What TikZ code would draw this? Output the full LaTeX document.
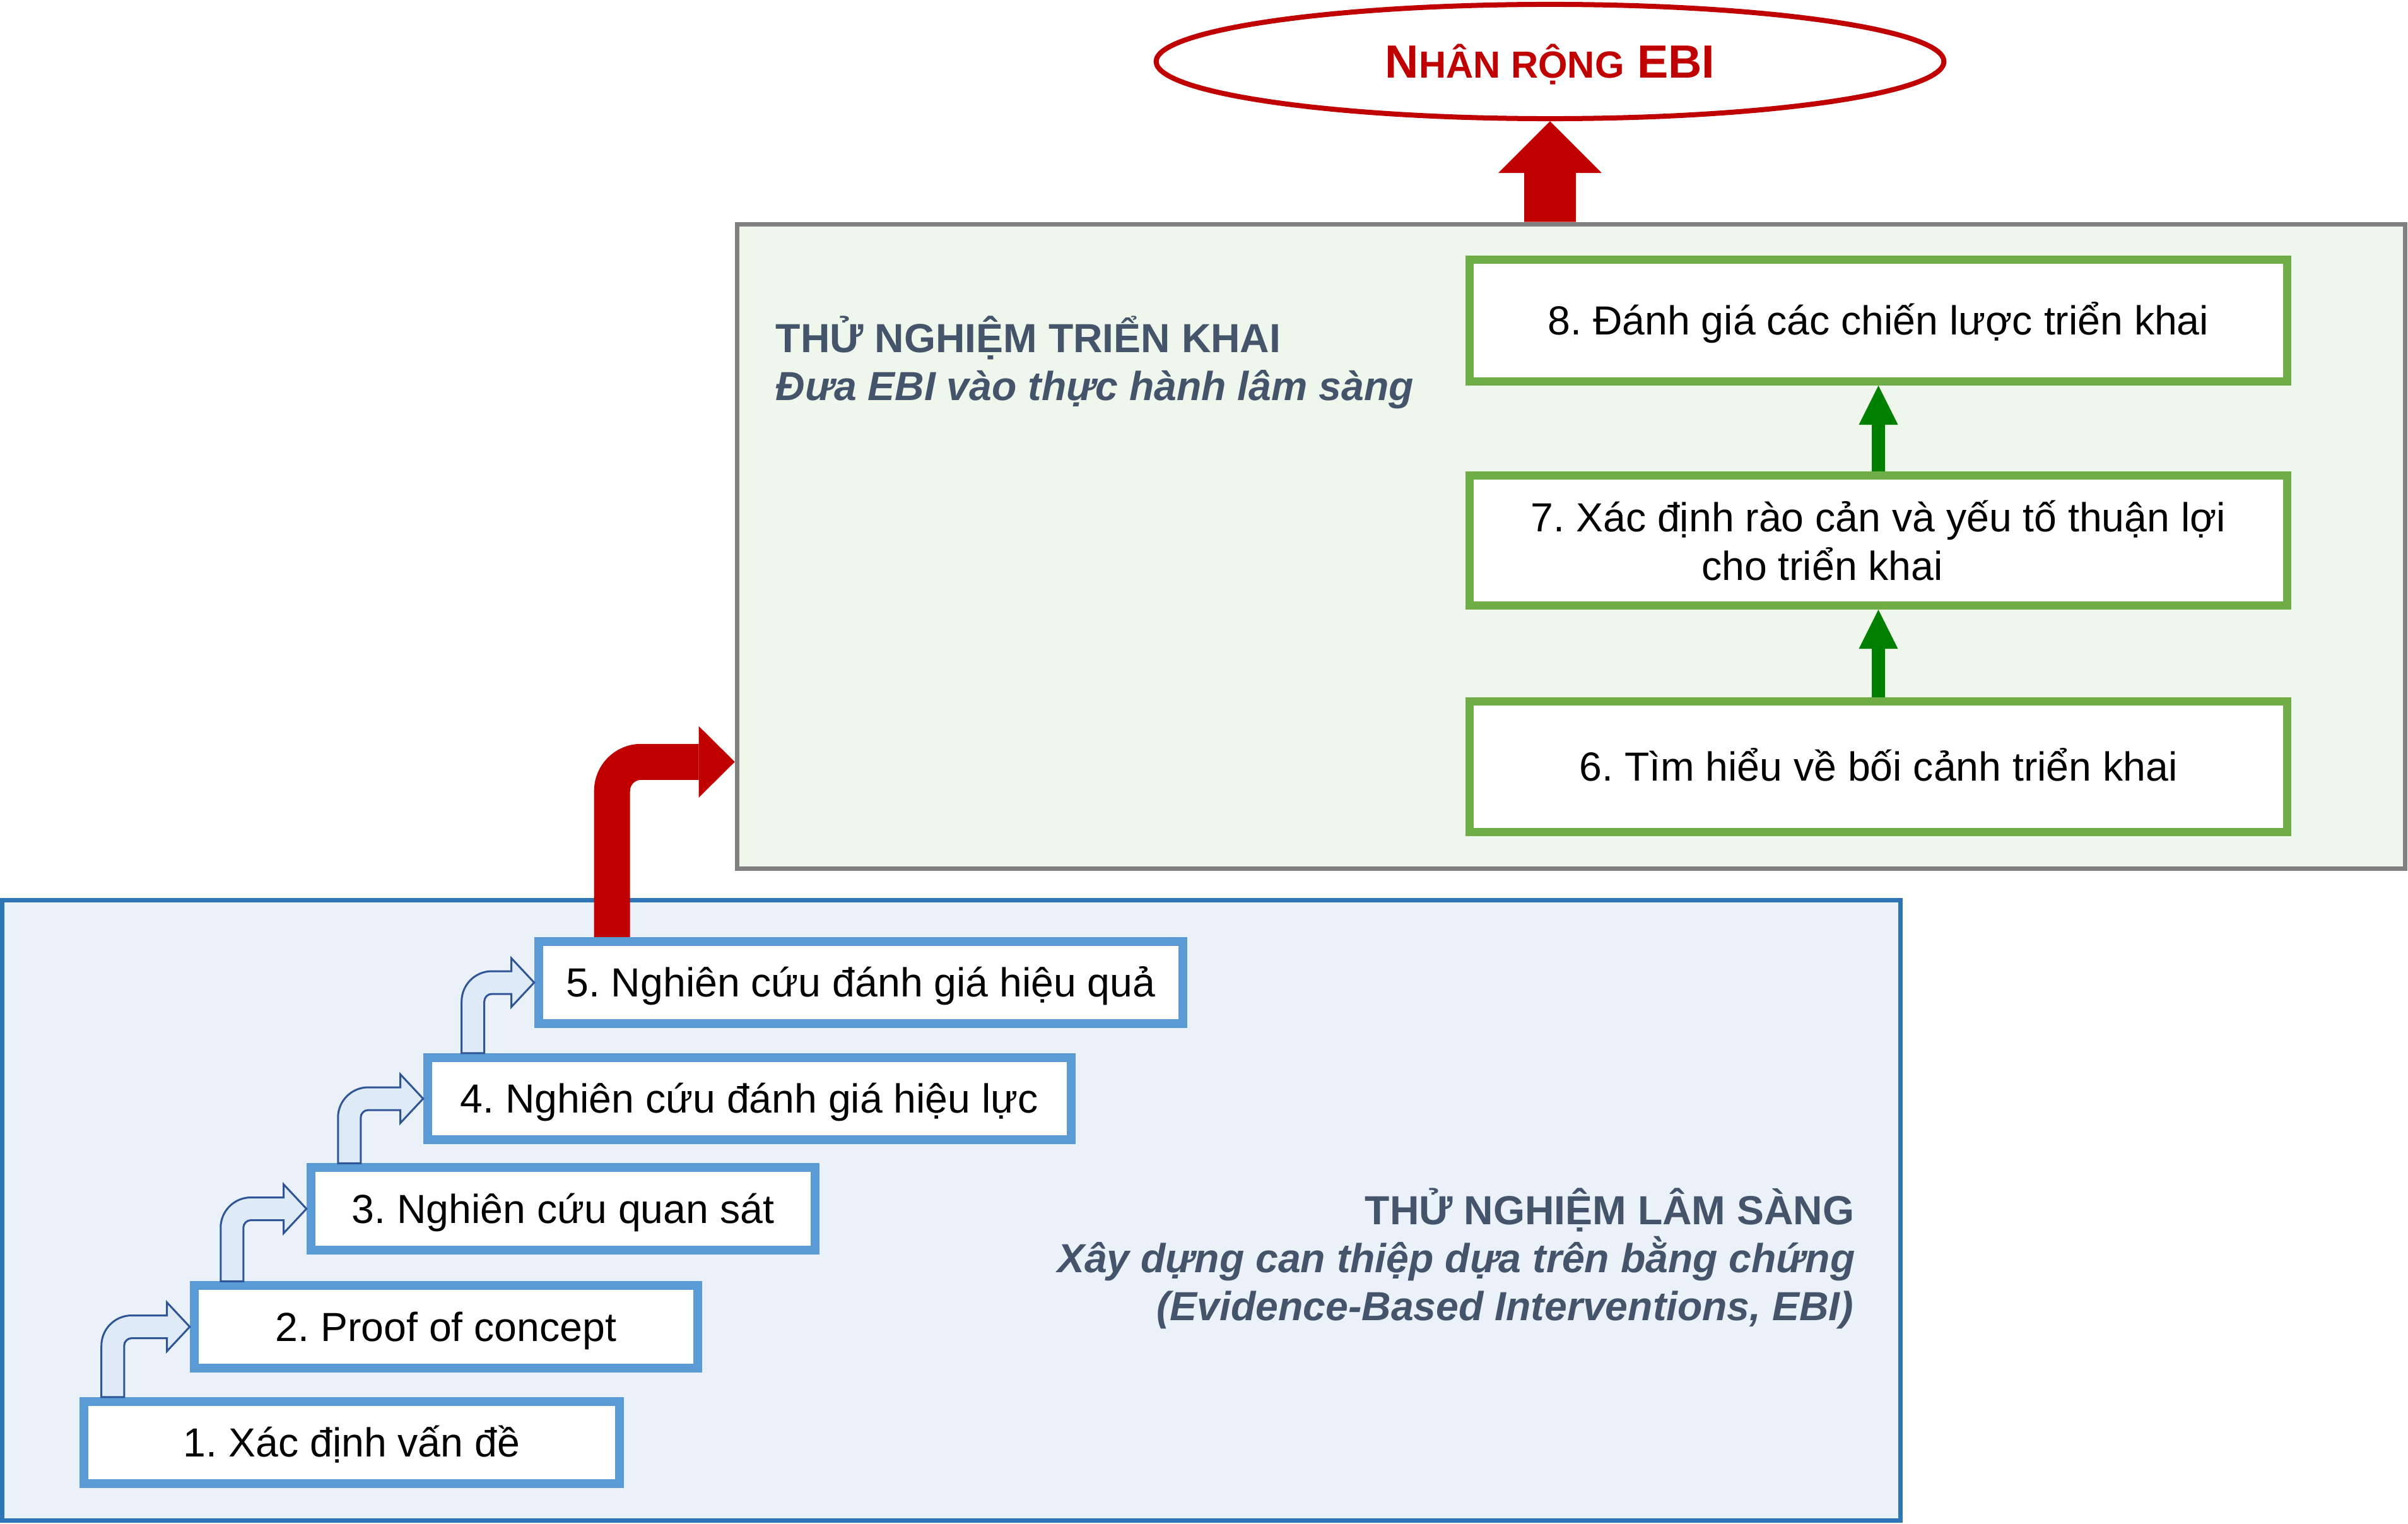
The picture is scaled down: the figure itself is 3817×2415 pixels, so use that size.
\documentclass[tikz,border=0pt]{standalone}
\usepackage{fontspec}
\setmainfont{Liberation Sans}
\usetikzlibrary{calc,shapes.geometric}
\frenchspacing

\definecolor{bluefill}{HTML}{EAF1F9}
\definecolor{blueborder}{HTML}{2E75B6}
\definecolor{boxblue}{HTML}{5B9BD5}
\definecolor{greenfill}{HTML}{EFF7EC}
\definecolor{grayborder}{HTML}{808080}
\definecolor{boxgreen}{HTML}{70AD47}
\definecolor{arrowgreen}{HTML}{008000}
\definecolor{darkred}{HTML}{C00000}
\definecolor{headcol}{HTML}{44546A}
\definecolor{sarrfill}{HTML}{DEEBF7}
\definecolor{sarrline}{HTML}{2F5597}

% thick straight arrow pointing up: #1 from, #2 to, #3 shaft half width, #4 head half width, #5 head length, #6 colour
\newcommand\thickup[6]{%
  \fill[#6] let \p1=(#1), \p2=(#2) in
    (\x1-#3,\y1) -- (\x1-#3,\y2-#5) -- (\x1-#4,\y2-#5) -- (\x1,\y2)
    -- (\x1+#4,\y2-#5) -- (\x1+#3,\y2-#5) -- (\x1+#3,\y1) -- cycle;}

% hollow bent step arrow: #1 from node, #2 to node, #3 x offset of shaft centre from #1's left edge
\newcommand\steparrow[3]{%
  \filldraw[fill=sarrfill, draw=sarrline, line width=0.03cm, line join=miter]
    let \p1=(#1.north west), \p2=(#2.west), \p3=($(#1.north west)+(#3,0)$) in
    (\x3-0.18cm,\y1) [rounded corners=0.48cm] -- (\x3-0.18cm,\y2+0.18cm) [sharp corners]
    -- (\x2-0.36cm,\y2+0.18cm) -- (\x2-0.36cm,\y2+0.385cm) -- (\x2,\y2)
    -- (\x2-0.36cm,\y2-0.385cm) -- (\x2-0.36cm,\y2-0.18cm) [rounded corners=0.12cm]
    -- (\x3+0.18cm,\y2-0.18cm) [sharp corners] -- (\x3+0.18cm,\y1) -- cycle;}

\begin{document}
\begin{tikzpicture}[x=0.01cm,y=-0.01cm,
  container/.style={draw, line width=0.07cm, inner sep=0pt},
  bluebox/.style={draw=boxblue, fill=white, line width=0.14cm, minimum height=1.30cm,
    inner sep=0pt, font=\fontsize{18.3}{21.9}\selectfont, text height=0.45cm, text depth=0pt},
  greenbox/.style={draw=boxgreen, fill=white, line width=0.13cm, minimum width=12.96cm,
    inner sep=0pt, font=\fontsize{18.3}{21.9}\selectfont},
  headtxt/.style={text=headcol, inner sep=0pt, font=\fontsize{18.3}{21.9}\selectfont\bfseries},
  headital/.style={text=headcol, inner sep=0pt, font=\fontsize{18.3}{21.9}\selectfont\bfseries\itshape}
]
\useasboundingbox (0,0) rectangle (3817,2415);

% containers
\node[container, draw=blueborder, fill=bluefill, minimum width=30.07cm, minimum height=9.83cm] (clin) at (1508,1918) {};
\node[container, draw=grayborder, fill=greenfill, minimum width=26.425cm, minimum height=10.21cm] (impl) at (2490.25,866) {};

% top ellipse
\node[ellipse, draw=darkred, fill=white, line width=0.08cm, minimum width=12.48cm, minimum height=1.81cm,
  inner sep=0pt, text=darkred, font=\bfseries, text height=0.52cm, text depth=0pt] (ebi) at (2457,97.5)
  {{\fontsize{21}{25}\selectfont N}{\fontsize{17}{20}\selectfont HÂN RỘNG}{\fontsize{21}{25}\selectfont\ EBI}};

% headings
\node[headtxt, anchor=base west] (h1a) at (1229,558) {THỬ NGHIỆM TRIỂN KHAI};
\node[headital, anchor=base west] (h1b) at (1229,634) {Đưa EBI vào thực hành lâm sàng};
\node[headtxt, anchor=base east] (h2a) at (2940,1940) {THỬ NGHIỆM LÂM SÀNG};
\node[headital, anchor=base east] (h2b) at (2941,2016) {Xây dựng can thiệp dựa trên bằng chứng};
\node[headital, anchor=base east] (h2c) at (2939,2092) {(Evidence-Based Interventions, EBI)};

% clinical trial steps
\node[bluebox, minimum width=8.49cm] (b1) at (557.5,2286) {1. Xác định vấn đề};
\node[bluebox, minimum width=7.98cm] (b2) at (707,2102.5) {2. Proof of concept};
\node[bluebox, minimum width=7.99cm] (b3) at (892.5,1915.5) {3. Nghiên cứu quan sát};
\node[bluebox, minimum width=10.20cm] (b4) at (1188,1741) {4. Nghiên cứu đánh giá hiệu lực};
\node[bluebox, minimum width=10.21cm] (b5) at (1364.5,1557) {5. Nghiên cứu đánh giá hiệu quả};

% implementation steps
\node[greenbox, minimum height=1.93cm, text height=0.45cm, text depth=0pt] (g8) at (2977.5,508) {8. Đánh giá các chiến lược triển khai};
\node[greenbox, minimum height=2.06cm, align=center] (g7) at (2977.5,856.5) {7. Xác định rào cản và yếu tố thuận lợi\\cho triển khai\hspace*{1.78cm}};
\node[greenbox, minimum height=2.07cm, text height=0.45cm, text depth=0pt] (g6) at (2977.5,1215) {6. Tìm hiểu về bối cảnh triển khai};

% step arrows
\steparrow{b1}{b2}{53}
\steparrow{b2}{b3}{67}
\steparrow{b3}{b4}{68}
\steparrow{b4}{b5}{79}

% green arrows
\thickup{g6.north}{g7.south}{0.105cm}{0.31cm}{0.62cm}{arrowgreen}
\thickup{g7.north}{g8.south}{0.105cm}{0.31cm}{0.62cm}{arrowgreen}

% red arrow to ellipse
\thickup{ebi.south |- impl.north}{ebi.south}{0.41cm}{0.82cm}{0.82cm}{darkred}

% red elbow arrow
\coordinate (rtip) at ($(impl.south west)+(0,-173)$);
\draw[darkred, line width=0.57cm, rounded corners=0.46cm] ($(b5.north west)+(123.5,0)$) |- ($(rtip)+(-57,0)$);
\fill[darkred] (rtip) -- ++(-57,-56.5) -- ++(0,113) -- cycle;
\end{tikzpicture}
\end{document}
